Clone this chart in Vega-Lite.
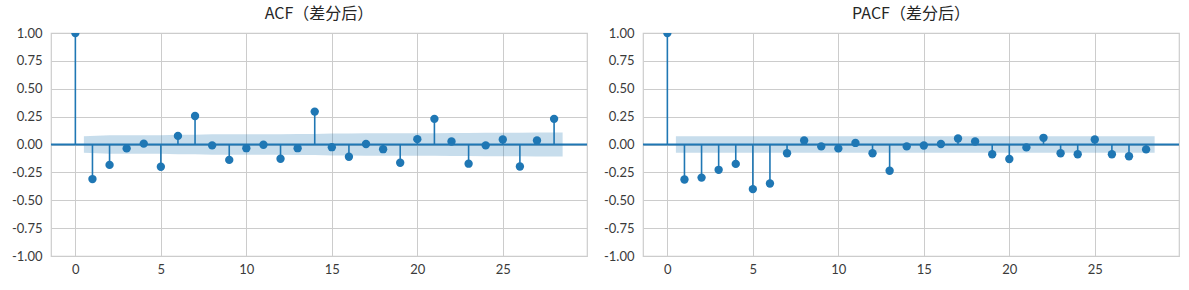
{
  "$schema": "https://vega.github.io/schema/vega-lite/v6.json",
  "padding": {"left": 10, "top": 5, "right": 9, "bottom": 4},
  "background": "white",
  "spacing": 56,
  "bounds": "flush",
  "config": {
    "locale": {"number": {"decimal": ".", "thousands": ",", "grouping": [3], "currency": ["$", ""], "minus": "-"}},
    "view": {"stroke": "#cccccc", "strokeWidth": 1.2},
    "axis": {
      "domain": false, "ticks": false, "gridColor": "#cccccc", "gridWidth": 1,
      "labelFont": "Lato", "labelFontSize": 13, "labelColor": "#3a3a3a", "title": null,
      "labelOverlap": false, "labelBound": false, "labelFlush": false
    },
    "title": {"font": "Noto Sans CJK SC", "fontSize": 16, "fontWeight": "normal", "color": "#262626", "offset": 5}
  },
  "datasets": {
    "acf": [
      {"lag": 0, "v": 1.0}, {"lag": 1, "v": -0.31}, {"lag": 2, "v": -0.183}, {"lag": 3, "v": -0.035},
      {"lag": 4, "v": 0.008}, {"lag": 5, "v": -0.2}, {"lag": 6, "v": 0.077}, {"lag": 7, "v": 0.256},
      {"lag": 8, "v": -0.008}, {"lag": 9, "v": -0.138}, {"lag": 10, "v": -0.033}, {"lag": 11, "v": -0.002},
      {"lag": 12, "v": -0.128}, {"lag": 13, "v": -0.033}, {"lag": 14, "v": 0.295}, {"lag": 15, "v": -0.024},
      {"lag": 16, "v": -0.11}, {"lag": 17, "v": 0.004}, {"lag": 18, "v": -0.042}, {"lag": 19, "v": -0.164},
      {"lag": 20, "v": 0.048}, {"lag": 21, "v": 0.23}, {"lag": 22, "v": 0.027}, {"lag": 23, "v": -0.172},
      {"lag": 24, "v": -0.008}, {"lag": 25, "v": 0.045}, {"lag": 26, "v": -0.197}, {"lag": 27, "v": 0.036},
      {"lag": 28, "v": 0.23}
    ],
    "acfband": [
      {"x": 0.5, "lo": -0.075, "hi": 0.075}, {"x": 2, "lo": -0.082, "hi": 0.082}, {"x": 3, "lo": -0.084, "hi": 0.084},
      {"x": 4, "lo": -0.084, "hi": 0.084}, {"x": 5, "lo": -0.084, "hi": 0.084}, {"x": 6, "lo": -0.087, "hi": 0.087},
      {"x": 7, "lo": -0.087, "hi": 0.087}, {"x": 8, "lo": -0.091, "hi": 0.091}, {"x": 9, "lo": -0.091, "hi": 0.091},
      {"x": 10, "lo": -0.093, "hi": 0.093}, {"x": 11, "lo": -0.093, "hi": 0.093}, {"x": 12, "lo": -0.093, "hi": 0.093},
      {"x": 13, "lo": -0.094, "hi": 0.094}, {"x": 14, "lo": -0.094, "hi": 0.094}, {"x": 15, "lo": -0.099, "hi": 0.099},
      {"x": 16, "lo": -0.099, "hi": 0.099}, {"x": 17, "lo": -0.1, "hi": 0.1}, {"x": 18, "lo": -0.1, "hi": 0.1},
      {"x": 19, "lo": -0.1, "hi": 0.1}, {"x": 20, "lo": -0.101, "hi": 0.101}, {"x": 21, "lo": -0.101, "hi": 0.101},
      {"x": 22, "lo": -0.104, "hi": 0.104}, {"x": 23, "lo": -0.104, "hi": 0.104}, {"x": 24, "lo": -0.106, "hi": 0.106},
      {"x": 25, "lo": -0.106, "hi": 0.106}, {"x": 26, "lo": -0.106, "hi": 0.106}, {"x": 27, "lo": -0.108, "hi": 0.108},
      {"x": 28.5, "lo": -0.108, "hi": 0.108}
    ],
    "pacf": [
      {"lag": 0, "v": 1.0}, {"lag": 1, "v": -0.314}, {"lag": 2, "v": -0.297}, {"lag": 3, "v": -0.227},
      {"lag": 4, "v": -0.174}, {"lag": 5, "v": -0.4}, {"lag": 6, "v": -0.35}, {"lag": 7, "v": -0.078},
      {"lag": 8, "v": 0.036}, {"lag": 9, "v": -0.017}, {"lag": 10, "v": -0.035}, {"lag": 11, "v": 0.014},
      {"lag": 12, "v": -0.078}, {"lag": 13, "v": -0.235}, {"lag": 14, "v": -0.017}, {"lag": 15, "v": -0.009},
      {"lag": 16, "v": 0.005}, {"lag": 17, "v": 0.054}, {"lag": 18, "v": 0.027}, {"lag": 19, "v": -0.087},
      {"lag": 20, "v": -0.13}, {"lag": 21, "v": -0.026}, {"lag": 22, "v": 0.06}, {"lag": 23, "v": -0.078},
      {"lag": 24, "v": -0.087}, {"lag": 25, "v": 0.045}, {"lag": 26, "v": -0.087}, {"lag": 27, "v": -0.105},
      {"lag": 28, "v": -0.044}
    ],
    "pacfband": [
      {"x": 0.5, "lo": -0.075, "hi": 0.075}, {"x": 28.5, "lo": -0.075, "hi": 0.075}
    ],
    "zero": [{"y": 0}]
  },
  "hconcat": [
    {
      "title": "ACF（差分后）",
      "width": 536, "height": 223,
      "layer": [
        {
          "data": {"name": "acfband"},
          "mark": {"type": "area", "color": "#1f77b4", "opacity": 0.25},
          "encoding": {
            "x": {"field": "x", "type": "quantitative", "scale": {"domain": [-1.425, 29.925], "nice": false, "zero": false},
                  "axis": {"values": [0, 5, 10, 15, 20, 25], "labelPadding": 7}},
            "y": {"field": "lo", "type": "quantitative", "scale": {"domain": [-1, 1], "nice": false},
                  "axis": {"values": [-1, -0.75, -0.5, -0.25, 0, 0.25, 0.5, 0.75, 1], "format": ".2f", "labelPadding": 9}},
            "y2": {"field": "hi"}
          }
        },
        {
          "data": {"name": "zero"},
          "mark": {"type": "rule", "color": "#1f77b4", "strokeWidth": 2},
          "encoding": {"y": {"field": "y", "type": "quantitative",
                  "axis": {"values": [-1, -0.75, -0.5, -0.25, 0, 0.25, 0.5, 0.75, 1], "format": ".2f", "labelPadding": 9}}}
        },
        {
          "data": {"name": "acf"},
          "mark": {"type": "rule", "color": "#1f77b4", "strokeWidth": 1.6},
          "encoding": {
            "x": {"field": "lag", "type": "quantitative", "axis": {"values": [0, 5, 10, 15, 20, 25], "labelPadding": 7}},
            "y": {"field": "v", "type": "quantitative",
                  "axis": {"values": [-1, -0.75, -0.5, -0.25, 0, 0.25, 0.5, 0.75, 1], "format": ".2f", "labelPadding": 9}},
            "y2": {"datum": 0}
          }
        },
        {
          "data": {"name": "acf"},
          "mark": {"type": "point", "filled": true, "shape": "circle", "size": 70, "color": "#1f77b4", "opacity": 1, "clip": true},
          "encoding": {
            "x": {"field": "lag", "type": "quantitative", "axis": {"values": [0, 5, 10, 15, 20, 25], "labelPadding": 7}},
            "y": {"field": "v", "type": "quantitative",
                  "axis": {"values": [-1, -0.75, -0.5, -0.25, 0, 0.25, 0.5, 0.75, 1], "format": ".2f", "labelPadding": 9}}
          }
        }
      ]
    },
    {
      "title": "PACF（差分后）",
      "width": 536, "height": 223,
      "layer": [
        {
          "data": {"name": "pacfband"},
          "mark": {"type": "area", "color": "#1f77b4", "opacity": 0.25},
          "encoding": {
            "x": {"field": "x", "type": "quantitative", "scale": {"domain": [-1.425, 29.925], "nice": false, "zero": false},
                  "axis": {"values": [0, 5, 10, 15, 20, 25], "labelPadding": 7}},
            "y": {"field": "lo", "type": "quantitative", "scale": {"domain": [-1, 1], "nice": false},
                  "axis": {"values": [-1, -0.75, -0.5, -0.25, 0, 0.25, 0.5, 0.75, 1], "format": ".2f", "labelPadding": 9}},
            "y2": {"field": "hi"}
          }
        },
        {
          "data": {"name": "zero"},
          "mark": {"type": "rule", "color": "#1f77b4", "strokeWidth": 2},
          "encoding": {"y": {"field": "y", "type": "quantitative",
                  "axis": {"values": [-1, -0.75, -0.5, -0.25, 0, 0.25, 0.5, 0.75, 1], "format": ".2f", "labelPadding": 9}}}
        },
        {
          "data": {"name": "pacf"},
          "mark": {"type": "rule", "color": "#1f77b4", "strokeWidth": 1.6},
          "encoding": {
            "x": {"field": "lag", "type": "quantitative", "axis": {"values": [0, 5, 10, 15, 20, 25], "labelPadding": 7}},
            "y": {"field": "v", "type": "quantitative",
                  "axis": {"values": [-1, -0.75, -0.5, -0.25, 0, 0.25, 0.5, 0.75, 1], "format": ".2f", "labelPadding": 9}},
            "y2": {"datum": 0}
          }
        },
        {
          "data": {"name": "pacf"},
          "mark": {"type": "point", "filled": true, "shape": "circle", "size": 70, "color": "#1f77b4", "opacity": 1, "clip": true},
          "encoding": {
            "x": {"field": "lag", "type": "quantitative", "axis": {"values": [0, 5, 10, 15, 20, 25], "labelPadding": 7}},
            "y": {"field": "v", "type": "quantitative",
                  "axis": {"values": [-1, -0.75, -0.5, -0.25, 0, 0.25, 0.5, 0.75, 1], "format": ".2f", "labelPadding": 9}}
          }
        }
      ]
    }
  ]
}
